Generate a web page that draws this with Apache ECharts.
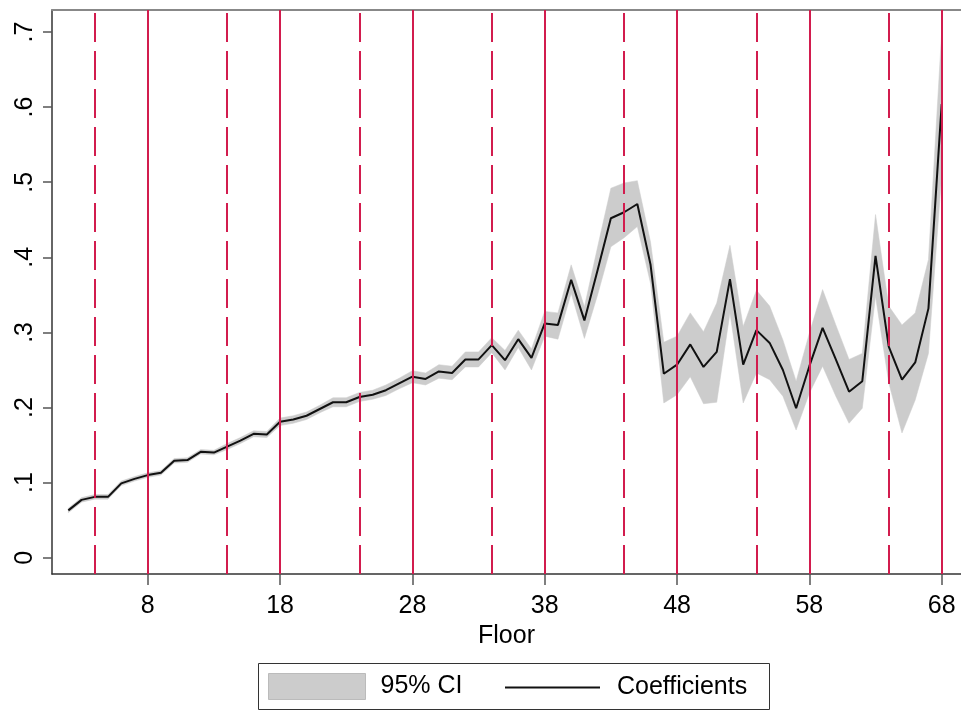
<!DOCTYPE html>
<html>
<head>
<meta charset="utf-8">
<style>
  html, body { margin: 0; padding: 0; background: #fff; }
  #main { width: 961px; height: 711px; }
</style>
<script src="https://cdn.jsdelivr.net/npm/echarts@6/dist/echarts.min.js"></script>
</head>
<body>
<div id="main"></div>
<script>
// floors 2..68
var floors = [2, 3, 4, 5, 6, 7, 8, 9, 10, 11, 12, 13, 14, 15, 16, 17, 18, 19, 20,
  21, 22, 23, 24, 25, 26, 27, 28, 29, 30, 31, 32, 33, 34, 35, 36, 37, 38, 39, 40,
  41, 42, 43, 44, 45, 46, 47, 48, 49, 50, 51, 52, 53, 54, 55, 56, 57, 58, 59, 60,
  61, 62, 63, 64, 65, 66, 67, 68];

var coef = [0.063, 0.077, 0.081, 0.081, 0.099, 0.105, 0.110, 0.113, 0.129, 0.130,
  0.141, 0.140, 0.148, 0.156, 0.165, 0.164, 0.181, 0.184, 0.189,
  0.198, 0.207, 0.207, 0.214, 0.217, 0.223, 0.232, 0.241, 0.238, 0.248,
  0.246, 0.264, 0.264, 0.283, 0.263, 0.291, 0.266, 0.312, 0.310, 0.370,
  0.316, 0.383, 0.452, 0.460, 0.471, 0.390, 0.245, 0.257, 0.284, 0.254,
  0.274, 0.371, 0.257, 0.303, 0.286, 0.250, 0.199, 0.255, 0.306, 0.264,
  0.221, 0.235, 0.402, 0.281, 0.237, 0.260, 0.332, 0.604];

var ciLower = [0.060, 0.074, 0.078, 0.078, 0.096, 0.102, 0.107, 0.110, 0.126, 0.127,
  0.138, 0.137, 0.144, 0.152, 0.161, 0.160, 0.176, 0.179, 0.184,
  0.193, 0.201, 0.201, 0.208, 0.211, 0.216, 0.225, 0.233, 0.230, 0.239,
  0.237, 0.254, 0.254, 0.273, 0.250, 0.280, 0.250, 0.295, 0.291, 0.352,
  0.292, 0.350, 0.414, 0.426, 0.441, 0.365, 0.206, 0.217, 0.241, 0.205,
  0.207, 0.326, 0.206, 0.246, 0.237, 0.215, 0.170, 0.219, 0.255, 0.215,
  0.179, 0.199, 0.348, 0.233, 0.166, 0.210, 0.272, 0.510];

var ciUpper = [0.066, 0.080, 0.084, 0.084, 0.102, 0.108, 0.113, 0.116, 0.132, 0.133,
  0.144, 0.143, 0.152, 0.160, 0.169, 0.168, 0.186, 0.189, 0.194,
  0.203, 0.213, 0.213, 0.220, 0.223, 0.230, 0.239, 0.249, 0.246, 0.257,
  0.255, 0.274, 0.274, 0.293, 0.276, 0.303, 0.278, 0.328, 0.326, 0.390,
  0.334, 0.414, 0.492, 0.499, 0.502, 0.420, 0.287, 0.295, 0.326, 0.301,
  0.339, 0.416, 0.308, 0.356, 0.335, 0.290, 0.235, 0.299, 0.357, 0.310,
  0.264, 0.272, 0.457, 0.335, 0.310, 0.326, 0.397, 0.700];

var xTicks = [8, 18, 28, 38, 48, 58, 68];
var yTicks = [0, 0.1, 0.2, 0.3, 0.4, 0.5, 0.6, 0.7];
var solidLines = [8, 18, 28, 38, 48, 58, 68];
var dashedLines = [4, 14, 24, 34, 44, 54, 64];

var FONT = 'Liberation Sans, Arial, sans-serif';
var FS = 25;
var RED = '#d21c4e';
var GREY = '#cccccc';

var chart = echarts.init(document.getElementById('main'), null, { renderer: 'canvas' });

var coefData = floors.map(function (f, i) { return [f, coef[i]]; });
var bandData = floors.map(function (f, i) { return [f, ciLower[i], ciUpper[i]]; });

var refLines = solidLines.map(function (v) {
  return { xAxis: v, lineStyle: { color: RED, width: 2, type: 'solid' } };
}).concat(dashedLines.map(function (v) {
  return { xAxis: v, lineStyle: { color: RED, width: 2, type: [29, 9] } };
}));

// whole CI band drawn as one polygon, through the axes' scales
function renderBand(params, api) {
  if (params.dataIndex !== 0) return null;
  var top = [], bottom = [];
  for (var i = 0; i < floors.length; i++) {
    top.push(api.coord([floors[i], ciUpper[i]]));
    bottom.push(api.coord([floors[i], ciLower[i]]));
  }
  var pts = top.concat(bottom.reverse());
  return {
    type: 'polygon',
    shape: { points: pts },
    style: { fill: GREY, stroke: GREY, lineWidth: 0.5 },
    silent: true
  };
}

var option = {
  backgroundColor: '#ffffff',
  animation: false,
  grid: { left: 52, right: 0, top: 10, bottom: 137 },
  xAxis: [{
    type: 'value',
    min: 0.765,
    max: 69.46,
    name: 'Floor',
    nameLocation: 'middle',
    nameGap: 45,
    nameTextStyle: { fontSize: FS, color: '#000', fontFamily: FONT },
    axisLine: { show: true, onZero: false, lineStyle: { color: '#333', width: 1.5 } },
    axisTick: { show: true, length: 11, customValues: xTicks, lineStyle: { color: '#555', width: 1.5 } },
    axisLabel: { customValues: xTicks, fontSize: FS, color: '#000', fontFamily: FONT, margin: 20 },
    splitLine: { show: false }
  }, {
    type: 'value',
    position: 'top',
    min: 0.765,
    max: 69.46,
    axisLine: { show: true, onZero: false, lineStyle: { color: '#888', width: 2 } },
    axisTick: { show: false },
    axisLabel: { show: false },
    splitLine: { show: false }
  }],
  yAxis: {
    type: 'value',
    min: -0.0217,
    max: 0.7293,
    axisLine: { show: true, onZero: false, lineStyle: { color: '#333', width: 1.5 } },
    axisTick: { show: true, length: 9, customValues: yTicks, lineStyle: { color: '#555', width: 1.5 } },
    axisLabel: {
      customValues: yTicks,
      rotate: 90,
      fontSize: FS,
      color: '#000',
      fontFamily: FONT,
      margin: 14,
      formatter: function (v) {
        var s = (+v).toFixed(1);
        return s === '0.0' ? '0' : s.replace(/^0/, '');
      }
    },
    splitLine: { show: false }
  },
  legend: [{
    left: 268,
    top: 673,
    itemWidth: 97,
    itemHeight: 26,
    padding: 0,
    textStyle: { fontSize: FS, color: '#000', fontFamily: FONT, padding: [3, 0, 0, 10] },
    data: [{ name: '95% CI', icon: 'rect', itemStyle: { color: GREY, borderColor: '#bbbbbb', borderWidth: 1 } }]
  }, {
    left: 505,
    top: 675,
    itemWidth: 95,
    itemHeight: 2,
    padding: 0,
    textStyle: { fontSize: FS, color: '#000', fontFamily: FONT, padding: [0, 0, 0, 12] },
    data: [{ name: 'Coefficients', icon: 'rect', itemStyle: { color: '#111' } }]
  }],
  graphic: [{
    type: 'rect',
    shape: { x: 258.5, y: 663.5, width: 511, height: 46 },
    style: { fill: 'none', stroke: '#333', lineWidth: 1 },
    silent: true
  }],
  series: [{
    name: 'refLines',
    type: 'line',
    data: coefData,
    symbol: 'none',
    z: 1,
    silent: true,
    lineStyle: { opacity: 0 },
    markLine: {
      silent: true,
      symbol: ['none', 'none'],
      label: { show: false },
      animation: false,
      data: refLines
    }
  }, {
    name: '95% CI',
    type: 'custom',
    renderItem: renderBand,
    data: bandData,
    encode: { x: 0, y: [1, 2] },
    z: 2,
    silent: true,
    itemStyle: { color: GREY }
  }, {
    name: 'Coefficients',
    type: 'line',
    data: coefData,
    symbol: 'none',
    z: 3,
    lineStyle: { color: '#111', width: 2 },
    itemStyle: { color: '#111' }
  }]
};

chart.setOption(option);
</script>
</body>
</html>
